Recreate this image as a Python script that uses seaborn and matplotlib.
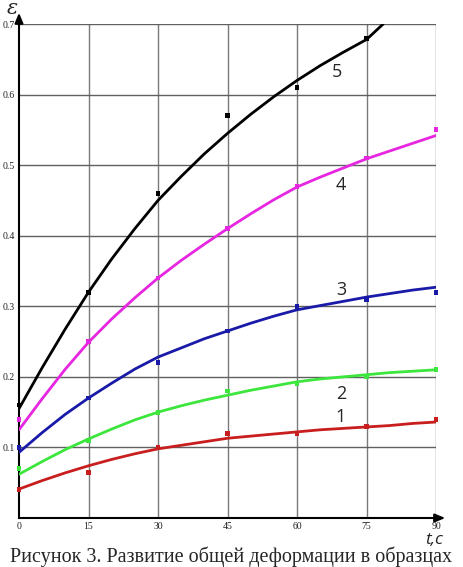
import matplotlib
matplotlib.use("Agg")
import matplotlib.pyplot as plt
import seaborn as sns
import pandas as pd

# measured points
t_pts = [0, 15, 30, 45, 60, 75, 90]
pts1 = [0.04, 0.065, 0.10, 0.12, 0.12, 0.13, 0.14]
pts2 = [0.07, 0.11, 0.15, 0.18, 0.19, 0.20, 0.21]
pts3 = [0.10, 0.17, 0.22, 0.265, 0.30, 0.31, 0.32]
pts4 = [0.14, 0.25, 0.34, 0.41, 0.47, 0.51, 0.55]
t_pts5 = [0, 15, 30, 45, 60, 75]
pts5 = [0.16, 0.32, 0.46, 0.57, 0.61, 0.68]

# fitted curves
t_curve = [0, 5, 10, 15, 20, 25, 30, 35, 40, 45, 50, 55, 60, 65, 70, 75, 80, 85, 90]
curve1 = [0.041, 0.053, 0.064, 0.074, 0.083, 0.091, 0.098, 0.103, 0.108, 0.113,
          0.116, 0.119, 0.122, 0.125, 0.127, 0.129, 0.131, 0.134, 0.136]
curve2 = [0.062, 0.080, 0.097, 0.112, 0.126, 0.139, 0.150, 0.159, 0.167, 0.174,
          0.181, 0.187, 0.193, 0.197, 0.200, 0.203, 0.206, 0.208, 0.210]
curve3 = [0.093, 0.121, 0.147, 0.170, 0.191, 0.211, 0.228, 0.241, 0.254, 0.265,
          0.276, 0.286, 0.295, 0.301, 0.307, 0.313, 0.318, 0.323, 0.327]
curve4 = [0.125, 0.169, 0.211, 0.249, 0.282, 0.312, 0.340, 0.365, 0.388, 0.410,
          0.431, 0.451, 0.469, 0.483, 0.496, 0.509, 0.520, 0.531, 0.542]
t_curve5 = [0, 5, 10, 15, 20, 25, 30, 35, 40, 45, 50, 55, 60, 65, 70, 75, 78.6]
curve5 = [0.155, 0.213, 0.268, 0.320, 0.367, 0.410, 0.450, 0.484, 0.516, 0.545,
          0.572, 0.597, 0.620, 0.641, 0.660, 0.678, 0.700]

series_names = ["1", "2", "3", "4", "5"]
colors = ["#c81e1e", "#3ce63c", "#1a1aa8", "#e626e0", "#000000"]
label_pos = [(69.5, 0.143), (69.5, 0.176), (69.5, 0.323), (69.5, 0.472), (68.6, 0.632)]

x_ticks = [0, 15, 30, 45, 60, 75, 90]
y_ticks = [0.1, 0.2, 0.3, 0.4, 0.5, 0.6, 0.7]
caption = "Рисунок 3. Развитие общей деформации в образцах"

sns.set_style("white")
plt.rcParams['font.family'] = ['DejaVu Sans']

pts_df = pd.concat([
    pd.DataFrame({"t": t_pts, "e": pts1, "s": "1"}),
    pd.DataFrame({"t": t_pts, "e": pts2, "s": "2"}),
    pd.DataFrame({"t": t_pts, "e": pts3, "s": "3"}),
    pd.DataFrame({"t": t_pts, "e": pts4, "s": "4"}),
    pd.DataFrame({"t": t_pts5, "e": pts5, "s": "5"}),
])
cur_df = pd.concat([
    pd.DataFrame({"t": t_curve, "e": curve1, "s": "1"}),
    pd.DataFrame({"t": t_curve, "e": curve2, "s": "2"}),
    pd.DataFrame({"t": t_curve, "e": curve3, "s": "3"}),
    pd.DataFrame({"t": t_curve, "e": curve4, "s": "4"}),
    pd.DataFrame({"t": t_curve5, "e": curve5, "s": "5"}),
])
palette = dict(zip(series_names, colors))

fig = plt.figure(figsize=(4.63, 5.67), dpi=100)
ax = fig.add_axes([19/463, 1-518/567, (436-19)/463, (518-24)/567])

for t in x_ticks[1:]:
    ax.axvline(t, color="#7a7a7a", lw=1.0, zorder=0)
for y in y_ticks:
    ax.axhline(y, color="#606060", lw=1.0, zorder=0)

sns.lineplot(data=cur_df, x="t", y="e", hue="s", palette=palette, lw=2.0,
             legend=False, ax=ax, sort=True, zorder=3)
sns.scatterplot(data=pts_df, x="t", y="e", hue="s", palette=palette, marker="s",
                s=12, linewidth=0, legend=False, ax=ax, zorder=4)
for coll in ax.collections:
    coll.set_clip_on(False)

for name, (lx, ly) in zip(series_names, label_pos):
    ax.text(lx, ly, name, fontsize=13, family="Open Sans", ha="center", va="center", zorder=5)

ax.set_xlim(0, 90)
ax.set_ylim(0, 0.7)
ax.set_xticks(x_ticks)
ax.set_xticklabels([str(v) for v in x_ticks])
ax.set_yticks(y_ticks)
ax.set_yticklabels([f"{v:.1f}" for v in y_ticks])
ax.tick_params(axis="both", length=0, labelsize=7, pad=3, labelcolor="#222222")
for lab in ax.get_xticklabels() + ax.get_yticklabels():
    lab.set_family("Liberation Serif")
ax.set_xlabel("")
ax.set_ylabel("")
for side in ["top", "right"]:
    ax.spines[side].set_visible(False)
for side in ["left", "bottom"]:
    ax.spines[side].set_color("black")
    ax.spines[side].set_linewidth(1.5)

# axis arrows
ax.annotate("", xy=(1.0 + 12/417, 0), xytext=(0.99, 0), xycoords="axes fraction",
            arrowprops=dict(arrowstyle="-|>,head_length=0.6,head_width=0.25", color="black", lw=1.5),
            annotation_clip=False)
ax.annotate("", xy=(0, 1.0 + 14/494), xytext=(0, 0.99), xycoords="axes fraction",
            arrowprops=dict(arrowstyle="-|>,head_length=0.6,head_width=0.25", color="black", lw=1.5),
            annotation_clip=False)

fig.text(12/463, 1-8/567, "ε", fontsize=15, style="italic", family="DejaVu Serif", ha="center", va="center")
fig.text(434/463, 1-544/567, "t,c", fontsize=12.5, style="italic", family="Open Sans", ha="center", va="baseline")
fig.text(0.5, 1-567/567, caption, fontsize=14.5, family="Liberation Serif", ha="center", va="bottom")

fig.savefig("out.png", dpi=100)
